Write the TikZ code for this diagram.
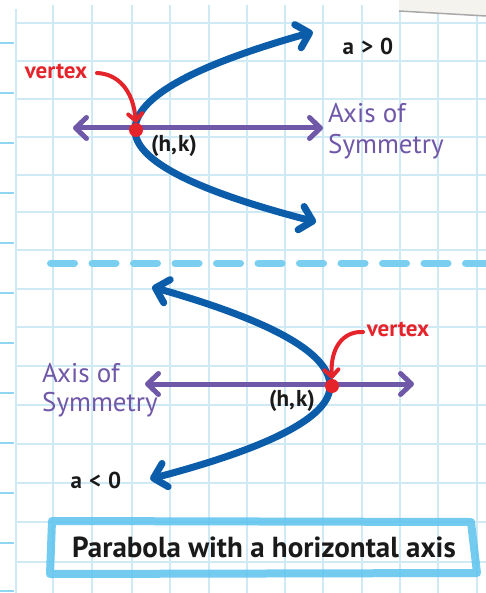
\documentclass[tikz,border=0pt]{standalone}
\usepackage{fontspec}
\setmainfont{PT Sans}
\usetikzlibrary{arrows.meta}
\definecolor{gridc}{HTML}{CFE9F5}
\definecolor{tickc}{HTML}{8FD6F2}
\definecolor{paperc}{HTML}{F4F3EE}
\definecolor{shadc}{HTML}{A8A8A8}
\definecolor{curvec}{HTML}{0B5DAA}
\definecolor{axisc}{HTML}{7058A8}
\definecolor{redc}{HTML}{E5232B}
\definecolor{dashc}{HTML}{7ACFF0}
\definecolor{boxc}{HTML}{5CC3EE}
\definecolor{inkc}{HTML}{1A1A1A}
\tikzset{
  gridline/.style={gridc, line width=2},
  tickline/.style={tickc, line width=2.5},
  curvestyle/.style={curvec, line width=7, line cap=round,
    {Straight Barb[length=12pt,width=24pt,line cap=round,line join=round]}-{Straight Barb[length=12pt,width=24pt,line cap=round,line join=round]}},
  axisstyle/.style={axisc, line width=5, line cap=round,
    {Straight Barb[length=11pt,width=21pt,line cap=round,line join=round]}-{Straight Barb[length=11pt,width=21pt,line cap=round,line join=round]}},
  redarrow/.style={redc, line width=4, line cap=round,
    -{Straight Barb[length=7pt,width=14pt,line cap=round,line join=round]}},
  vdot/.style={circle, fill=redc, inner sep=0pt, minimum size=14pt},
  redtext/.style={redc, font=\bfseries\fontsize{23}{24}\selectfont, inner sep=0pt},
  inktext/.style={inkc, font=\bfseries\fontsize{23}{24}\selectfont, inner sep=0pt},
  purpletext/.style={axisc, font=\fontsize{27}{31}\selectfont, inner sep=0pt, align=left},
}
\begin{document}
\begin{tikzpicture}[x=1pt,y=-1pt]
\useasboundingbox (0,0) rectangle (486,593);
\fill[white] (0,0) rectangle (486,593);
% grid
\foreach \x in {53,92,132,170,209,247,285,323,362,400,438,477}
  \draw[gridline] (\x,5) -- (\x,593);
\draw[gridline] (16,9) -- (16,593);
\foreach \y in {23,61,99,137,175,212,250,289,327,366,405,444,483,522,562}
  \draw[gridline] (16,\y) -- (486,\y);
\foreach \y in {43,93,143,193,243,293,343,393,443,493,543,591}
  \draw[tickline] (0,\y) -- (14,\y);
% paper patch
\fill[paperc] (399,0) -- (486,0) -- (486,16) -- (399,11) -- cycle;
\draw[shadc, line width=1.5] (399,11) -- (486,16);

% ===== top: a > 0 =====
\coordinate (axL1) at (73,128);
\coordinate (axR1) at (323,128);
\draw[axisstyle] (axL1) -- (axR1);
\draw[curvestyle] plot[domain=-98:92, samples=80]
  ({135+(\x<0?0.01853:0.0214)*\x*\x},{130+\x});
\node[vdot] (v1) at (136,130) {};
\node[redtext] (vt1) at (56,71) {vertex};
\coordinate (r1s) at (97,73);
\draw[redarrow] (r1s) .. controls (118,74) and (133,90) .. (v1.north);
\node[inktext] (hk1) at (174,146) {(h,\hspace{1pt}k)};
\node[inktext] (ag) at (368,46) {a\hspace{7pt}>\hspace{7pt}0};
\node[purpletext, anchor=base west] (ax1) at (328,154) {Axis of\\Symmetry};

% dashed separator
\coordinate (dsL) at (50.5,263);
\coordinate (dsR) at (486,263);
\draw[dashc, line width=7, line cap=round, dash pattern=on 24 off 17.5] (dsL) -- (dsR);

% ===== bottom: a < 0 =====
\coordinate (axL2) at (145,384);
\coordinate (axR2) at (414,384);
\draw[axisstyle] (axL2) -- (axR2);
\draw[curvestyle] plot[domain=-99:93, samples=80]
  ({330-(\x<0?0.01816:0.0208)*\x*\x},{386+\x});
\node[vdot] (v2) at (332,386) {};
\node[redtext] (vt2) at (398,329) {vertex};
\coordinate (r2s) at (363,332);
\draw[redarrow] (r2s) .. controls (343,331) and (330,348) .. (v2.north);
\node[inktext] (hk2) at (292,401) {(h,\hspace{1pt}k)};
\node[inktext] (al) at (96,480) {a\hspace{7pt}<\hspace{7pt}0};
\node[purpletext, anchor=base west] (ax2) at (42,411) {Axis of\\[-2pt]Symmetry};

% caption box
\draw[boxc, opacity=0.85, line width=8, line join=round, line cap=round]
  (52,521) -- (471,522) -- (477,573) -- (50,574) -- cycle;
\node[inkc, font=\bfseries\fontsize{29}{30}\selectfont, inner sep=0pt] (cap) at (264,547) {Parabola with a horizontal axis};
\end{tikzpicture}
\end{document}
